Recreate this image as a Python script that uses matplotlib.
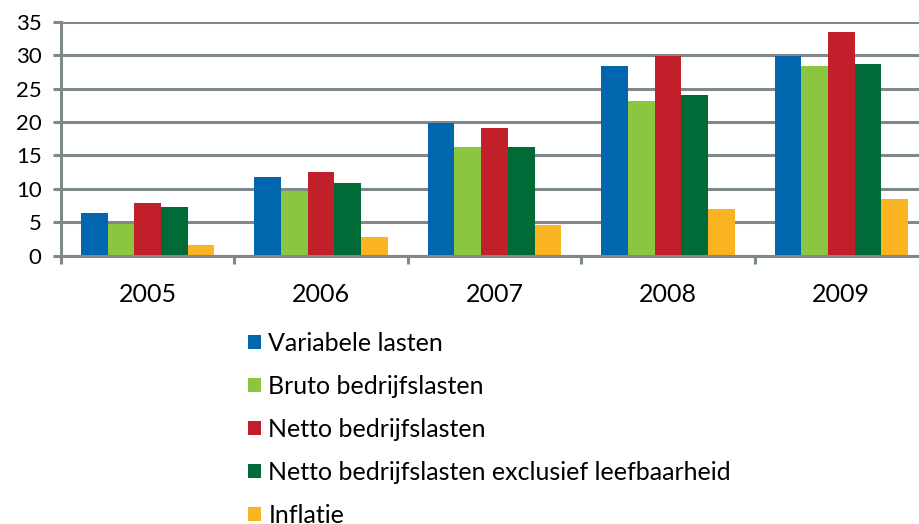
import numpy as np
import matplotlib
matplotlib.use("Agg")
import matplotlib.pyplot as plt
from matplotlib.patches import Patch

plt.rcParams['font.family'] = ['Lato', 'DejaVu Sans']

# data
years = ["2005", "2006", "2007", "2008", "2009"]
series_names = ["Variabele lasten", "Bruto bedrijfslasten", "Netto bedrijfslasten",
                "Netto bedrijfslasten exclusief leefbaarheid", "Inflatie"]
variabele = [6.4, 11.8, 19.9, 28.3, 29.8]
bruto = [4.7, 9.7, 16.3, 23.2, 28.3]
netto = [7.9, 12.5, 19.1, 29.8, 33.4]
netto_excl = [7.3, 10.9, 16.3, 24.0, 28.6]
inflatie = [1.6, 2.8, 4.6, 7.0, 8.5]
yticks = [0, 5, 10, 15, 20, 25, 30, 35]

colors = ["#0066ae", "#8cc540", "#c1202a", "#006b37", "#fbb421"]
grid_col = "#7f898c"

fig = plt.figure(figsize=(9.19, 5.24), dpi=100)
ax = fig.add_axes([61/919, 1-255.7/524, (928-61)/919, (255.7-21.7)/524])

x = np.arange(len(years))
w = 0.154
all_series = [variabele, bruto, netto, netto_excl, inflatie]
for i, vals in enumerate(all_series):
  ax.bar(x + (i-2)*w, vals, w, color=colors[i], linewidth=0, zorder=3)

ax.set_xlim(-0.5, len(years)-0.5)
ax.set_ylim(0, 35)
ax.set_yticks(yticks)
ax.yaxis.grid(True, color=grid_col, linewidth=2.2, zorder=1)
ax.tick_params(axis='y', length=6, width=2.2, color=grid_col, labelsize=16, pad=8)

ax.set_xticks(x)
ax.set_xticklabels(years)
ax.set_xticks(np.arange(-0.5, len(years)), minor=True)
ax.tick_params(axis='x', which='major', length=0, labelsize=18, pad=20)
ax.tick_params(axis='x', which='minor', length=6, width=2.2, color=grid_col)

for s in ['top', 'right']:
  ax.spines[s].set_visible(False)
for s in ['left', 'bottom']:
  ax.spines[s].set_color(grid_col)
  ax.spines[s].set_linewidth(2.2)
  ax.spines[s].set_zorder(4)

handles = [Patch(facecolor=c, edgecolor='none') for c in colors]
fig.legend(handles, series_names, loc='upper left', bbox_to_anchor=(238/919, 1-322/524),
           frameon=False, fontsize=18, handlelength=0.52, handleheight=0.52,
           handletextpad=0.3, labelspacing=0.8, borderaxespad=0)

fig.savefig("out.png", dpi=100)
